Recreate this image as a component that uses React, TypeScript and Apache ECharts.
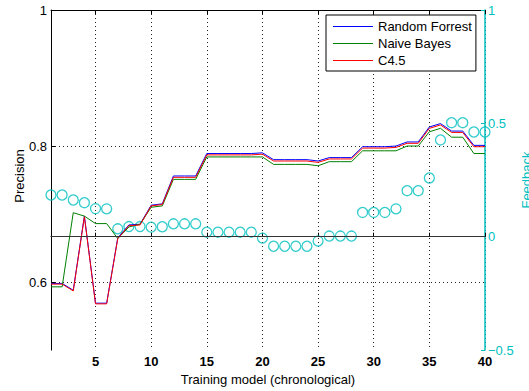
import React, { useEffect, useRef } from "react";
import * as echarts from "echarts";

const models: number[] = Array.from({ length: 40 }, (_, i) => i + 1);

const randomForrest: number[] = [
  0.598, 0.598, 0.588, 0.697, 0.569, 0.569, 0.665, 0.684, 0.685, 0.713,
  0.715, 0.756, 0.756, 0.756, 0.789, 0.789, 0.789, 0.789, 0.789, 0.790,
  0.780, 0.780, 0.780, 0.780, 0.778, 0.783, 0.783, 0.783, 0.799, 0.799,
  0.799, 0.800, 0.806, 0.806, 0.828, 0.833, 0.822, 0.822, 0.801, 0.801,
];

const naiveBayes: number[] = [
  0.593, 0.593, 0.702, 0.697, 0.686, 0.686, 0.664, 0.681, 0.685, 0.710,
  0.712, 0.751, 0.751, 0.751, 0.784, 0.784, 0.784, 0.784, 0.784, 0.784,
  0.773, 0.773, 0.773, 0.773, 0.771, 0.777, 0.777, 0.777, 0.793, 0.793,
  0.793, 0.793, 0.800, 0.800, 0.821, 0.826, 0.813, 0.813, 0.789, 0.789,
];

const c45: number[] = [
  0.597, 0.597, 0.587, 0.696, 0.568, 0.568, 0.664, 0.683, 0.684, 0.712,
  0.714, 0.754, 0.754, 0.754, 0.787, 0.787, 0.787, 0.787, 0.787, 0.788,
  0.778, 0.778, 0.778, 0.778, 0.776, 0.781, 0.781, 0.781, 0.797, 0.797,
  0.797, 0.798, 0.804, 0.804, 0.826, 0.831, 0.820, 0.820, 0.799, 0.799,
];

const feedback: number[] = [
  0.184, 0.184, 0.162, 0.150, 0.124, 0.123, 0.035, 0.045, 0.045, 0.042,
  0.044, 0.057, 0.057, 0.057, 0.020, 0.020, 0.020, 0.020, 0.020, -0.006,
  -0.042, -0.042, -0.042, -0.042, -0.019, 0.003, 0.003, 0.003, 0.107, 0.107,
  0.107, 0.123, 0.203, 0.203, 0.259, 0.427, 0.503, 0.503, 0.462, 0.462,
];

const xTicks: number[] = [5, 10, 15, 20, 25, 30, 35, 40];
const precisionTicks: number[] = [0.6, 0.8, 1];

const FONT = "Liberation Sans, Arial, Helvetica, sans-serif";
const CYAN = "#00BFBF";

export default function App() {
  const ref = useRef<HTMLDivElement>(null);

  useEffect(() => {
    if (!ref.current) return;
    const chart = echarts.init(ref.current, undefined, { renderer: "svg" });
    const pair = (arr: number[]) => models.map((m, i) => [m, arr[i]]);
    const dotted = { color: "#222", width: 1, type: [1, 3] as number[] };

    chart.setOption({
      animation: false,
      backgroundColor: "#fff",
      textStyle: { fontFamily: FONT },
      grid: { left: 51, right: 44, top: 10, bottom: 39, containLabel: false },
      legend: {
        data: ["Random Forrest", "Naive Bayes", "C4.5"],
        orient: "vertical",
        left: 326,
        top: 15,
        padding: [4, 4, 3, 7],
        itemGap: 2,
        itemWidth: 40,
        itemHeight: 14,
        icon: "path://M0,6.5 L40,6.5 L40,7.5 L0,7.5 Z",
        borderColor: "#000",
        borderWidth: 1,
        backgroundColor: "#fff",
        textStyle: { fontSize: 13, color: "#000", fontFamily: FONT, lineHeight: 15 },
      },
      xAxis: [
        {
          type: "value",
          min: 1,
          max: 40,
          position: "bottom",
          axisLine: { show: true, lineStyle: { color: "#000", width: 1 } },
          axisTick: { show: true, inside: true, length: 4, customValues: xTicks, lineStyle: { color: "#000" } },
          axisLabel: {
            customValues: xTicks,
            fontSize: 13,
            fontWeight: "bold",
            color: "#000",
            margin: 5,
            fontFamily: FONT,
          },
          splitLine: { show: true, lineStyle: dotted },
          name: "Training model (chronological)",
          nameLocation: "middle",
          nameGap: 20,
          nameTextStyle: { fontSize: 13, color: "#000", fontFamily: FONT },
        },
        {
          type: "value",
          min: 1,
          max: 40,
          position: "top",
          axisLine: { show: true, lineStyle: { color: "#000", width: 1 } },
          axisTick: { show: true, inside: true, length: 4, customValues: xTicks, lineStyle: { color: "#000" } },
          axisLabel: { show: false, customValues: xTicks },
          splitLine: { show: false },
        },
      ],
      yAxis: [
        {
          type: "value",
          min: 0.5,
          max: 1,
          position: "left",
          axisLine: { show: true, lineStyle: { color: "#000", width: 1 } },
          axisTick: { show: true, inside: true, length: 4, customValues: precisionTicks, lineStyle: { color: "#000" } },
          axisLabel: {
            customValues: precisionTicks,
            fontSize: 13,
            color: "#000",
            margin: 4,
            fontFamily: FONT,
            formatter: (v: number) => String(Math.round(v * 10) / 10),
          },
          splitLine: { show: true, lineStyle: dotted },
        },
        {
          type: "value",
          min: -0.5,
          max: 1,
          interval: 0.5,
          position: "right",
          axisLine: { show: true, lineStyle: { color: CYAN, width: 1.5 } },
          axisTick: { show: true, inside: true, length: 4, lineStyle: { color: CYAN } },
          axisLabel: {
            fontSize: 13,
            color: CYAN,
            margin: 3,
            fontFamily: FONT,
            formatter: (v: number) => String(v).replace("-", "\u2212"),
          },
          splitLine: { show: false },
        },
      ],
      graphic: [
        {
          type: "text",
          x: 19,
          y: 176,
          rotation: Math.PI / 2,
          style: {
            text: "Precision",
            fontSize: 13,
            fontFamily: FONT,
            fill: "#000",
            align: "center",
            verticalAlign: "middle",
          },
        },
        {
          type: "text",
          x: 526,
          y: 180,
          rotation: Math.PI / 2,
          style: {
            text: "Feedback",
            fontSize: 13,
            fontFamily: FONT,
            fill: CYAN,
            align: "center",
            verticalAlign: "middle",
          },
        },
      ],
      series: [
        {
          name: "Feedback",
          type: "scatter",
          xAxisIndex: 0,
          yAxisIndex: 1,
          data: pair(feedback),
          symbol: "circle",
          symbolSize: 10,
          itemStyle: { color: "rgba(0,0,0,0)", borderColor: CYAN, borderWidth: 1.3 },
          clip: false,
          z: 1,
          markLine: {
            silent: true,
            symbol: "none",
            label: { show: false },
            lineStyle: { color: "#333", type: "solid", width: 1 },
            data: [{ yAxis: 0 }],
          },
        },
        {
          name: "Random Forrest",
          type: "line",
          xAxisIndex: 0,
          yAxisIndex: 0,
          data: pair(randomForrest),
          symbol: "none",
          lineStyle: { color: "#0000FF", width: 1 },
          itemStyle: { color: "#0000FF" },
          z: 2,
        },
        {
          name: "Naive Bayes",
          type: "line",
          xAxisIndex: 0,
          yAxisIndex: 0,
          data: pair(naiveBayes),
          symbol: "none",
          lineStyle: { color: "#008000", width: 1 },
          itemStyle: { color: "#008000" },
          z: 2,
        },
        {
          name: "C4.5",
          type: "line",
          xAxisIndex: 0,
          yAxisIndex: 0,
          data: pair(c45),
          symbol: "none",
          lineStyle: { color: "#FF0000", width: 1 },
          itemStyle: { color: "#FF0000" },
          z: 3,
        },
      ],
    });

    return () => chart.dispose();
  }, []);

  return (
    <div
      ref={ref}
      style={{ position: "fixed", left: 0, top: 0, width: 529, height: 391 }}
    />
  );
}
